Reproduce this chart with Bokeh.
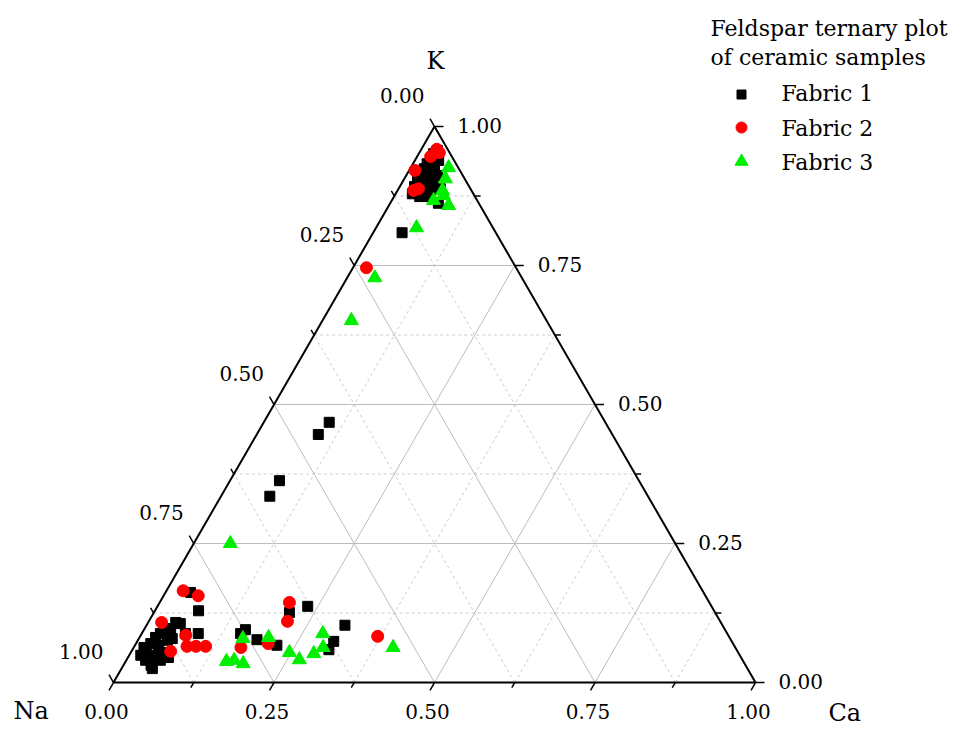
import numpy as np
from bokeh.plotting import figure
from bokeh.models import Range1d, Label, ColumnDataSource
from bokeh.core.properties import value
from bokeh.embed import file_html
from bokeh.resources import INLINE

# ---------------- data (fractions K, Ca; Na = 1 - K - Ca) ----------------
fabric1_K = [0.957, 0.951, 0.942, 0.939, 0.933, 0.930, 0.924, 0.919, 0.914, 0.910,
             0.912, 0.903, 0.899, 0.894, 0.892, 0.888, 0.885, 0.879, 0.874, 0.874,
             0.862, 0.888, 0.809,
             0.468, 0.446, 0.363, 0.335,
             0.162, 0.129, 0.108, 0.088, 0.045, 0.106, 0.088,
             0.031, 0.043, 0.058, 0.070, 0.081, 0.088, 0.097, 0.094, 0.067, 0.054,
             0.049, 0.040, 0.025, 0.049, 0.063, 0.076, 0.079, 0.040,
             0.137, 0.126, 0.103, 0.095, 0.088, 0.077, 0.067, 0.074, 0.059]
fabric1_Ca = [0.026, 0.023, 0.023, 0.037, 0.022, 0.035, 0.022, 0.035, 0.021, 0.036,
              0.049, 0.022, 0.036, 0.051, 0.023, 0.037, 0.051, 0.026, 0.040, 0.054,
              0.075, 0.065, 0.045,
              0.102, 0.096, 0.077, 0.076,
              0.039, 0.068, 0.043, 0.088, 0.063, 0.051, 0.068,
              0.043, 0.033, 0.022, 0.023, 0.025, 0.029, 0.032, 0.042, 0.037, 0.049,
              0.041, 0.030, 0.048, 0.018, 0.016, 0.046, 0.052, 0.053,
              0.234, 0.211, 0.309, 0.158, 0.154, 0.185, 0.221, 0.306, 0.306]

fabric2_K = [0.959, 0.953, 0.946, 0.921, 0.885, 0.888, 0.746,
             0.165, 0.156, 0.108, 0.065, 0.065, 0.065, 0.085, 0.056,
             0.144, 0.110, 0.083, 0.063, 0.070]
fabric2_Ca = [0.024, 0.031, 0.021, 0.009, 0.025, 0.031, 0.021,
              0.026, 0.054, 0.021, 0.082, 0.096, 0.111, 0.070, 0.061,
              0.202, 0.216, 0.370, 0.167, 0.206]

fabric3_K = [0.926, 0.906, 0.885, 0.876, 0.867, 0.858, 0.818, 0.728, 0.651, 0.250,
             0.079, 0.081, 0.038, 0.040, 0.034, 0.054, 0.041, 0.052, 0.088, 0.063, 0.063]
fabric3_Ca = [0.059, 0.064, 0.070, 0.076, 0.065, 0.093, 0.063, 0.043, 0.045, 0.057,
              0.162, 0.201, 0.157, 0.168, 0.185, 0.247, 0.269, 0.286, 0.282, 0.295, 0.404]

series_names = ["Fabric 1", "Fabric 2", "Fabric 3"]
axis_names = ["K", "Na", "Ca"]
tick_values = [0.0, 0.25, 0.5, 0.75, 1.0]
minor_values = [0.125, 0.375, 0.625, 0.875]
legend_title = ["Feldspar ternary plot", "of ceramic samples"]

# ---------------- geometry ----------------
H = np.sqrt(3) / 2
PX = 642.0  # pixels per unit side
FONT = "DejaVu Serif"
TXT = "#000000"
RED = "#ff0000"
GREEN = "#00ee00"


def tern(K, Ca):
    K = np.asarray(K, float)
    Ca = np.asarray(Ca, float)
    return Ca + K / 2, K * H


def u(px):
    return px / PX


W, HGT = 967, 729
p = figure(width=W, height=HGT, x_axis_type=None, y_axis_type=None,
           x_range=Range1d(-113 / PX, (W - 113) / PX),
           y_range=Range1d(-(HGT - 682) / PX, 682 / PX),
           min_border=0, toolbar_location=None, output_backend="svg",
           outline_line_color=None, background_fill_color="white",
           border_fill_color="white")

# ---------------- grid ----------------
def grid_lines(vals):
    xs, ys = [], []
    for v in vals:
        xs.append([v / 2, 1 - v / 2]); ys.append([v * H, v * H])          # constant K
        xs.append([v, v + (1 - v) / 2]); ys.append([0, (1 - v) * H])      # constant Ca
        xs.append([1 - v, (1 - v) / 2]); ys.append([0, (1 - v) * H])      # constant Na
    return xs, ys

mx, my = grid_lines(minor_values)
p.multi_line(mx, my, line_color="#cdcdcd", line_width=1, line_dash="3 3")
gx, gy = grid_lines([0.25, 0.5, 0.75])
p.multi_line(gx, gy, line_color="#bdbdbd", line_width=1)

# ---------------- triangle edges ----------------
p.line([0, 1, 0.5, 0], [0, 0, H, 0], line_color="black", line_width=2)

# ---------------- ticks ----------------
all_ticks = sorted(tick_values + minor_values)
tx0, ty0, tx1, ty1 = [], [], [], []
for v in all_ticks:
    L = u(9) if v in tick_values else u(6)
    bx, by = v, 0.0                       # bottom (Ca)
    tx0.append(bx); ty0.append(by); tx1.append(bx - 0.5 * L); ty1.append(by - H * L)
    rx, ry = 1 - v / 2, v * H             # right (K)
    tx0.append(rx); ty0.append(ry); tx1.append(rx + L); ty1.append(ry)
    lx, ly = (1 - v) / 2, (1 - v) * H     # left (Na)
    tx0.append(lx); ty0.append(ly); tx1.append(lx - 0.5 * L); ty1.append(ly + H * L)
p.segment(tx0, ty0, tx1, ty1, line_color="black", line_width=1.5)

# ---------------- tick labels ----------------
labels = ["%.2f" % v for v in tick_values]
bsrc = ColumnDataSource(dict(x=[v - u(7) for v in tick_values],
                             y=[-u(29)] * len(tick_values), t=labels))
p.text("x", "y", text="t", source=bsrc, text_align="center", text_baseline="alphabetic",
       text_font=value(FONT), text_font_size="20px", text_color=TXT)
rsrc = ColumnDataSource(dict(x=[1 - v / 2 + u(23) for v in tick_values],
                             y=[v * H + u(1) for v in tick_values], t=labels))
p.text("x", "y", text="t", source=rsrc, text_align="left", text_baseline="alphabetic",
       text_font=value(FONT), text_font_size="20px", text_color=TXT)
lsrc = ColumnDataSource(dict(x=[(1 - v) / 2 - u(10) for v in tick_values],
                             y=[(1 - v) * H + u(31) for v in tick_values], t=labels))
p.text("x", "y", text="t", source=lsrc, text_align="right", text_baseline="alphabetic",
       text_font=value(FONT), text_font_size="20px", text_color=TXT)

# ---------------- axis titles ----------------
for name, x, y, al in [(axis_names[0], 0.5 + u(1), u(682 - 60), "center"),
                       (axis_names[1], u(13 - 113), u(682 - 710), "left"),
                       (axis_names[2], u(828 - 113), u(682 - 712), "left")]:
    p.add_layout(Label(x=x, y=y, text=name, text_align=al, text_baseline="alphabetic",
                       text_font=FONT, text_font_size="24px", text_color=TXT))

# ---------------- data points ----------------
x1, y1 = tern(fabric1_K, fabric1_Ca)
x2, y2 = tern(fabric2_K, fabric2_Ca)
x3, y3 = tern(fabric3_K, fabric3_Ca)
p.scatter(x1, y1, marker="square", size=10, fill_color="black", line_color="black")
p.scatter(x2, y2, marker="circle", size=12, fill_color=RED, line_color=RED)
p.scatter(x3, y3, marker="triangle", size=14, fill_color=GREEN, line_color=GREEN)

# ---------------- legend ----------------
for i, t in enumerate(legend_title):
    p.add_layout(Label(x=710, y=HGT - (28 + 29 * i), x_units="screen", y_units="screen",
                       text=t, text_align="left", text_baseline="alphabetic",
                       text_font=FONT, text_font_size="22px", text_color=TXT))
leg_py = [94, 127, 161]
markers = [("square", 9, "black"), ("circle", 11, RED), ("triangle", 13, GREEN)]
for i, (name, (mk, sz, col)) in enumerate(zip(series_names, markers)):
    p.scatter([u(741 - 113)], [u(682 - leg_py[i])], marker=mk, size=sz,
              fill_color=col, line_color=col)
    p.add_layout(Label(x=781, y=HGT - (93 + 34.5 * i), x_units="screen", y_units="screen",
                       text=name, text_align="left", text_baseline="alphabetic",
                       text_font=FONT, text_font_size="22px", text_color=TXT))

open("out.html", "w").write(file_html(p, INLINE))
